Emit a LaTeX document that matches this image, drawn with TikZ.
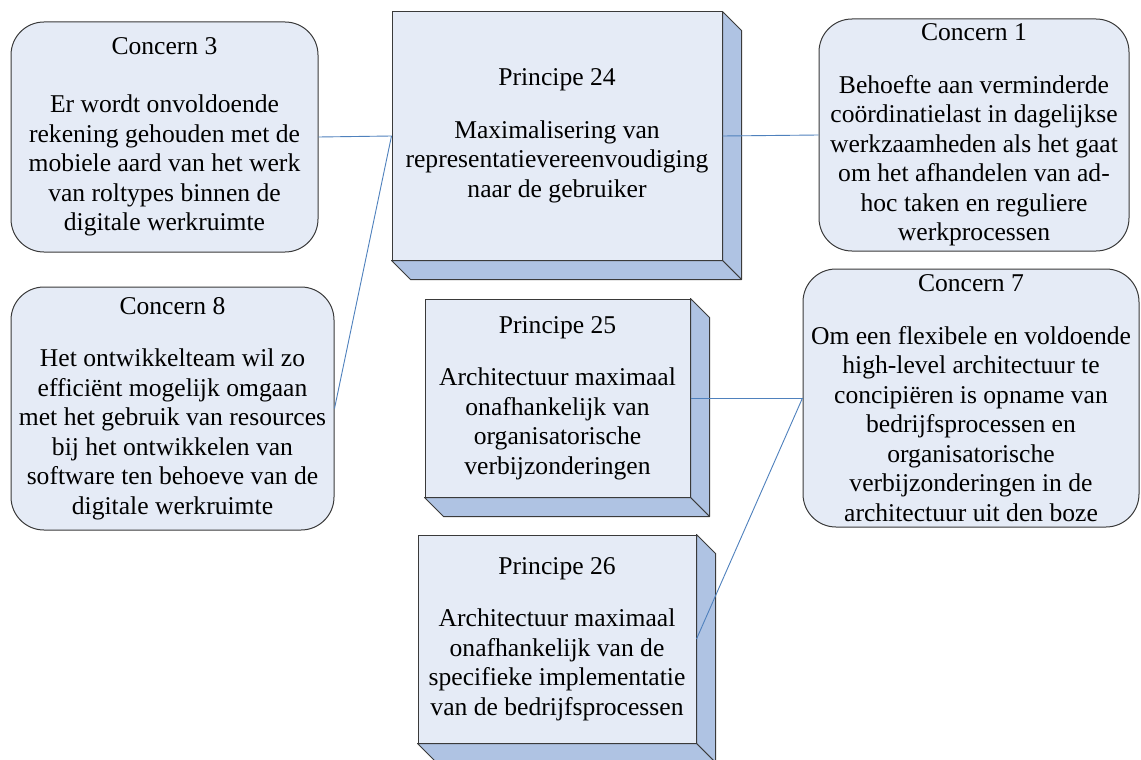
\documentclass[tikz,border=0pt]{standalone}
\usepackage{fontspec}
\setmainfont{Liberation Serif}
\definecolor{facefill}{HTML}{E5EBF6}
\definecolor{sidefill}{HTML}{AFC3E3}
\definecolor{edgecol}{HTML}{3A3A3A}
\definecolor{linkcol}{HTML}{4F81BD}
\newcommand\depthfaces[1]{%
  \filldraw[sidefill,draw=edgecol,line width=1pt,line join=round]
    (#1.north east) -- ([shift={(19,19)}]#1.north east) -- ([shift={(19,19)}]#1.south east) -- (#1.south east) -- cycle;
  \filldraw[sidefill,draw=edgecol,line width=1pt,line join=round]
    (#1.south west) -- ([shift={(19,19)}]#1.south west) -- ([shift={(19,19)}]#1.south east) -- (#1.south east) -- cycle;
}
\begin{document}
\begin{tikzpicture}[x=1pt,y=-1pt,
  txt/.style={align=center,font=\fontsize{25.6}{29.5}\selectfont,inner sep=0pt},
  concernbox/.style={txt,draw=edgecol,fill=facefill,line width=1pt,rounded corners=33pt},
  principebox/.style={txt,draw=edgecol,fill=facefill,line width=1pt},
  link/.style={draw=linkcol,line width=0.9pt}]
\useasboundingbox[fill=white] (0,0) rectangle (1141,760);

\node[concernbox,minimum width=307pt,minimum height=230pt] (c3) at (164.5,137)
  {Concern 3\\[29pt]Er wordt onvoldoende\\rekening gehouden met de\\mobiele aard van het werk\\van roltypes binnen de\\digitale werkruimte};
\node[concernbox,minimum width=323pt,minimum height=243pt] (c8) at (172.5,408.5)
  {Concern 8\\[23pt]Het ontwikkelteam wil zo\\efficiënt mogelijk omgaan\\met het gebruik van resources\\bij het ontwikkelen van\\software ten behoeve van de\\digitale werkruimte};
\node[concernbox,minimum width=310pt,minimum height=232pt] (c1) at (974,135)
  {Concern 1\\[23pt]Behoefte aan verminderde\\coördinatielast in dagelijkse\\werkzaamheden als het gaat\\om het afhandelen van ad-\\hoc taken en reguliere\\werkprocessen};
\node[concernbox,minimum width=336pt,minimum height=258pt] (c7) at (971,398)
  {Concern 7\\[23pt]Om een flexibele en voldoende\\high-level architectuur te\\concipiëren is opname van\\bedrijfsprocessen en\\organisatorische\\verbijzonderingen in de\\architectuur uit den boze};

\node[principebox,minimum width=330pt,minimum height=248pt] (p24) at (557,136)
  {Principe 24\\[23pt]Maximalisering van\\representatievereenvoudiging\\naar de gebruiker};
\depthfaces{p24}
\node[principebox,minimum width=265pt,minimum height=198pt] (p25) at (557.5,398)
  {Principe 25\\[23pt]Architectuur maximaal\\onafhankelijk van\\organisatorische\\verbijzonderingen};
\depthfaces{p25}
\node[principebox,minimum width=278pt,minimum height=208pt] (p26) at (557,639)
  {Principe 26\\[23pt]Architectuur maximaal\\onafhankelijk van de\\specifieke implementatie\\van de bedrijfsprocessen};
\depthfaces{p26}

\draw[link] (c3.east) -- (p24.west);
\draw[link] (c8.east) -- (p24.west);
\draw[link] (p24.east) -- (c1.west);
\draw[link] (p25.east) -- (c7.west);
\draw[link] (p26.east) -- (c7.west);
\end{tikzpicture}
\end{document}
